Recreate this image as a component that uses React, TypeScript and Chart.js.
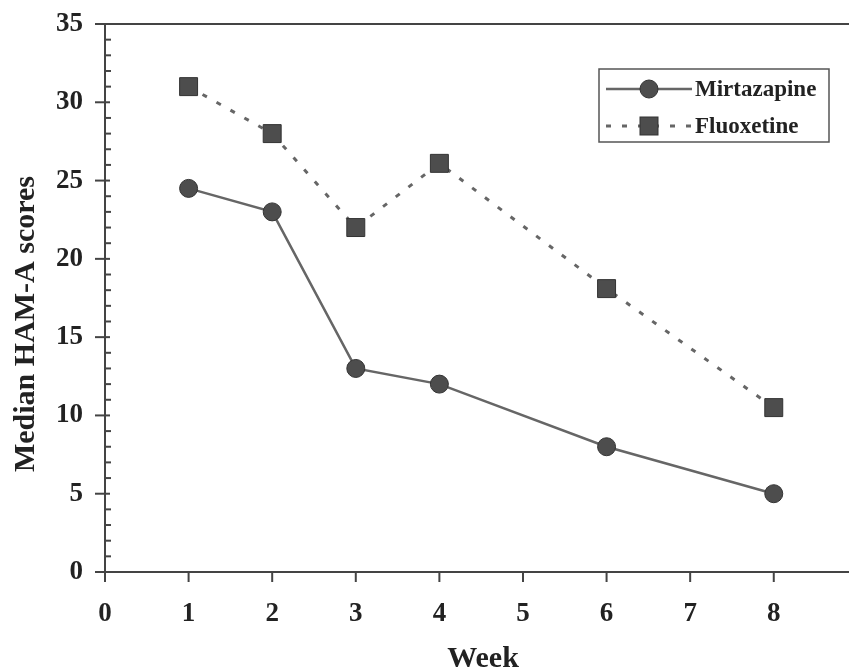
import React, { useEffect, useRef } from "react";
import { Chart, registerables } from "chart.js";

Chart.register(...registerables);

// ---- Data ----
const weeks = [1, 2, 3, 4, 6, 8];
const mirtazapine = [24.5, 23, 13, 12, 8, 5];
const fluoxetine = [31, 28, 22, 26.1, 18.1, 10.5];
const xTickValues = [0, 1, 2, 3, 4, 5, 6, 7, 8];
const yMajorTicks = [0, 5, 10, 15, 20, 25, 30, 35];
const seriesNames = ["Mirtazapine", "Fluoxetine"];
const xTitle = "Week";
const yTitle = "Median HAM-A scores";

const FONT = "'Liberation Serif', 'Times New Roman', serif";
const INK = "#222";
const AXIS = "#444";
const LINE = "#666";
const MARK = "#4d4d4d";

const decorPlugin = {
  id: "decor",
  afterDraw(chart: any) {
    const { ctx, chartArea } = chart;
    const xs = chart.scales.x;
    const ys = chart.scales.y;
    ctx.save();
    ctx.strokeStyle = AXIS;
    ctx.lineWidth = 2;
    // top frame line
    ctx.beginPath();
    ctx.moveTo(chartArea.left - 10, chartArea.top);
    ctx.lineTo(chartArea.right, chartArea.top);
    ctx.stroke();
    // y ticks
    for (let v = ys.min; v <= ys.max; v += 1) {
      const py = ys.getPixelForValue(v);
      const major = yMajorTicks.includes(v);
      ctx.beginPath();
      ctx.moveTo(chartArea.left - (major ? 10 : 0), py);
      ctx.lineTo(chartArea.left + (major ? 5 : 6), py);
      ctx.stroke();
    }
    // x ticks
    for (const v of xTickValues) {
      const px = xs.getPixelForValue(v);
      ctx.beginPath();
      ctx.moveTo(px, chartArea.bottom);
      ctx.lineTo(px, chartArea.bottom + 10);
      ctx.stroke();
    }
    // axis titles
    ctx.fillStyle = INK;
    ctx.font = `bold 30px ${FONT}`;
    ctx.textAlign = "center";
    ctx.textBaseline = "alphabetic";
    ctx.fillText(xTitle, (chartArea.left + chartArea.right) / 2 + 6, 667);
    ctx.save();
    ctx.translate(34, (chartArea.top + chartArea.bottom) / 2 + 26);
    ctx.rotate(-Math.PI / 2);
    ctx.fillText(yTitle, 0, 0);
    ctx.restore();

    // legend
    const bx = chartArea.right - 250;
    const by = chartArea.top + 45;
    const bw = 230;
    const bh = 73;
    ctx.lineWidth = 1.5;
    ctx.strokeStyle = "#555";
    ctx.strokeRect(bx, by, bw, bh);
    const rows = [by + 20, by + 57];
    chart.data.datasets.forEach((ds: any, i: number) => {
      const cy = rows[i];
      const x0 = bx + 7;
      const x1 = bx + 93;
      const cx = (x0 + x1) / 2;
      ctx.save();
      ctx.strokeStyle = LINE;
      ctx.lineWidth = ds.borderWidth;
      ctx.setLineDash(ds.borderDash || []);
      ctx.beginPath();
      ctx.moveTo(x0, cy);
      ctx.lineTo(x1, cy);
      ctx.stroke();
      ctx.setLineDash([]);
      ctx.fillStyle = MARK;
      ctx.strokeStyle = "#333";
      ctx.lineWidth = 1;
      if (ds.pointStyle === "rect") {
        ctx.fillRect(cx - 9, cy - 9, 18, 18);
        ctx.strokeRect(cx - 9, cy - 9, 18, 18);
      } else {
        ctx.beginPath();
        ctx.arc(cx, cy, 9, 0, Math.PI * 2);
        ctx.fill();
        ctx.stroke();
      }
      ctx.restore();
      ctx.fillStyle = INK;
      ctx.font = `bold 23px ${FONT}`;
      ctx.textAlign = "left";
      ctx.textBaseline = "middle";
      ctx.fillText(ds.label, x1 + 3, cy + 1);
    });
    ctx.restore();
  },
};

function zeroPadding(scale: any) {
  scale.paddingTop = 0;
  scale.paddingBottom = 0;
  scale.paddingLeft = 0;
  scale.paddingRight = 0;
}

export default function App() {
  const ref = useRef<HTMLCanvasElement | null>(null);
  useEffect(() => {
    if (!ref.current) return;
    const chart = new Chart(ref.current, {
      type: "line",
      data: {
        datasets: [
          {
            label: seriesNames[0],
            data: weeks.map((w, i) => ({ x: w, y: mirtazapine[i] })),
            borderColor: LINE,
            borderWidth: 2.5,
            pointStyle: "circle",
            pointRadius: 9,
            pointBackgroundColor: MARK,
            pointBorderColor: "#333",
            pointBorderWidth: 1,
            tension: 0,
          },
          {
            label: seriesNames[1],
            data: weeks.map((w, i) => ({ x: w, y: fluoxetine[i] })),
            borderColor: LINE,
            borderWidth: 3,
            borderDash: [5, 11],
            pointStyle: "rect",
            pointRadius: 12.7,
            pointBackgroundColor: MARK,
            pointBorderColor: "#333",
            pointBorderWidth: 1,
            tension: 0,
          },
        ],
      },
      options: {
        responsive: false,
        animation: false,
        layout: { autoPadding: false, padding: { top: 24, right: 0, left: 0, bottom: 0 } },
        plugins: {
          legend: { display: false },
          tooltip: { enabled: false },
          title: { display: false },
        },
        scales: {
          x: {
            type: "linear",
            min: 0,
            max: 8.9,
            grid: { display: false, drawTicks: false },
            border: { display: true, color: AXIS, width: 2 },
            ticks: {
              stepSize: 1,
              includeBounds: false,
              padding: 26,
              color: INK,
              font: { family: FONT, size: 27, weight: "bold" },
              maxRotation: 0,
            },
            afterFit(scale: any) {
              scale.height = 98;
              zeroPadding(scale);
            },
          },
          y: {
            type: "linear",
            min: 0,
            max: 35,
            grid: { display: false, drawTicks: false },
            border: { display: true, color: AXIS, width: 2 },
            ticks: {
              stepSize: 5,
              padding: 22,
              color: INK,
              font: { family: FONT, size: 27, weight: "bold" },
            },
            afterFit(scale: any) {
              scale.width = 105;
              zeroPadding(scale);
            },
          },
        },
      },
      plugins: [decorPlugin],
    } as any);
    return () => chart.destroy();
  }, []);
  return (
    <div style={{ position: "absolute", left: 0, top: 0, width: 849, height: 670 }}>
      <canvas ref={ref} width={849} height={670} style={{ display: "block" }} />
    </div>
  );
}
